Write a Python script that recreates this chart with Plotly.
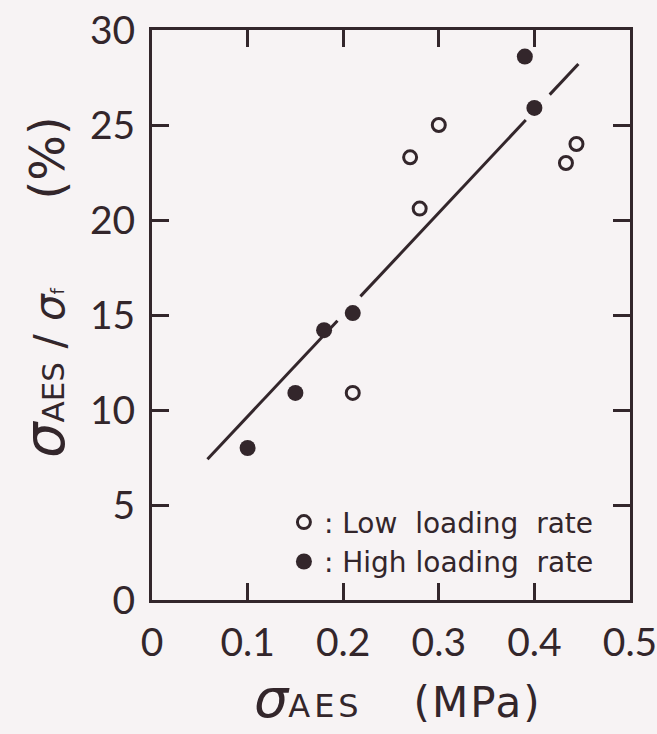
import plotly.graph_objects as go

# sigma_AES (MPa) against sigma_AES / sigma_f (%) for two loading rates
low_x = [0.21, 0.27, 0.28, 0.30, 0.433, 0.444]
low_y = [10.9, 23.3, 20.6, 25.0, 23.0, 24.0]
high_x = [0.10, 0.15, 0.18, 0.21, 0.39, 0.40]
high_y = [8.0, 10.9, 14.2, 15.1, 28.6, 25.9]

# regression line, broken where it passes the filled markers
fit_x = [0.058, 0.194, None, 0.218, 0.391, None, 0.416, 0.446]
fit_y = [7.41, 14.70, None, 15.98, 25.26, None, 26.60, 28.21]

x_ticks = [0, 0.1, 0.2, 0.3, 0.4, 0.5]
x_tick_labels = ["0", "0.1", "0.2", "0.3", "0.4", "0.5"]
y_ticks = [0, 5, 10, 15, 20, 25, 30]
y_tick_labels = ["0", "5", "10", "15", "20", "25", "30"]

ink = "#33262b"
paper = "#f7f3f4"
tick_family = "Lato, 'Noto Sans', 'DejaVu Sans', sans-serif"
text_family = "'DejaVu Sans', sans-serif"
nb = "\u00a0"

fig = go.Figure()
fig.add_trace(go.Scatter(
    x=fit_x, y=fit_y, mode="lines", connectgaps=False,
    line=dict(color=ink, width=3), showlegend=False, hoverinfo="skip",
))
fig.add_trace(go.Scatter(
    x=low_x, y=low_y, mode="markers",
    name=f":{nb}Low{nb*2}loading{nb*2}rate",
    marker=dict(symbol="circle-open", size=13, color=ink, line=dict(width=3)),
))
fig.add_trace(go.Scatter(
    x=high_x, y=high_y, mode="markers",
    name=f":{nb}High{nb}loading{nb*2}rate",
    marker=dict(symbol="circle", size=16, color=ink),
))

axis_common = dict(
    showline=True, linewidth=3, linecolor=ink, mirror="ticks",
    ticks="inside", ticklen=17, tickwidth=3, tickcolor=ink,
    showgrid=False, zeroline=False, automargin=False,
    ticklabeloverflow="allow",
    tickfont=dict(family=tick_family, size=39, color=ink),
)

fig.update_xaxes(range=[0, 0.5], tickvals=x_ticks, ticktext=x_tick_labels,
                 ticklabelstandoff=6, **axis_common)
fig.update_yaxes(range=[0, 30], tickvals=y_ticks, ticktext=y_tick_labels,
                 ticklabelstandoff=6, **axis_common)

x_title = (f'<span style="font-size:54px"><i>σ</i></span>'
           f'<span style="font-size:32px"><span style="letter-spacing:4px">AES</span>{nb*5}</span>'
           f'<span style="letter-spacing:2px">(MPa)</span>')
y_title = (f'<span style="font-size:56px"><i>σ</i></span>AES'
           f'<span style="font-size:42px">{nb}/{nb}<i>σ</i></span>'
           f'<span style="font-size:18px">f</span>{nb*9}'
           f'<span style="font-size:48px">(%)</span>')

fig.add_annotation(text=x_title, xref="paper", yref="paper",
                   x=0.515, y=-0.172, xanchor="center", yanchor="middle",
                   showarrow=False, font=dict(family=text_family, size=42, color=ink))
fig.add_annotation(text=y_title, xref="paper", yref="paper", textangle=-90,
                   x=-0.225, y=0.55, xanchor="center", yanchor="middle",
                   showarrow=False, font=dict(family=text_family, size=31, color=ink))

fig.update_layout(
    width=657, height=734,
    margin=dict(l=152, r=27, t=30, b=134),
    paper_bgcolor=paper, plot_bgcolor=paper,
    font=dict(family=text_family, color=ink),
    legend=dict(
        x=0.276, y=0.18, xanchor="left", yanchor="top",
        bgcolor="rgba(0,0,0,0)", borderwidth=0,
        font=dict(family=text_family, size=28, color=ink),
        itemwidth=30,
    ),
)

fig.write_html("out.html")
